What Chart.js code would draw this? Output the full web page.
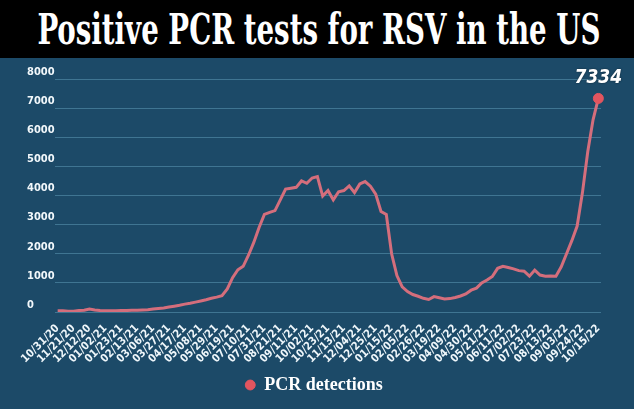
<!DOCTYPE html>
<html>
<head>
<meta charset="utf-8">
<script src="https://cdn.jsdelivr.net/npm/chart.js@4.4.1/dist/chart.umd.min.js"></script>
<style>
  html, body { margin: 0; padding: 0; background: #1c4a68; }
  #wrap { width: 634px; height: 409px; overflow: hidden; }
  .title {
    height: 58px; background: #000; color: #fff;
    display: flex; align-items: center; justify-content: center;
    overflow: hidden; white-space: nowrap;
  }
  .title span {
    font-family: "DejaVu Serif Condensed", "DejaVu Serif", serif;
    font-weight: bold; font-size: 42px; display: inline-block;
    transform-origin: center center; margin-left: 3px;
  }
  canvas { display: block; }
</style>
</head>
<body>
<div id="wrap">
  <div class="title"><span id="ttl">Positive PCR tests for RSV in the US</span></div>
  <canvas id="rsv" width="634" height="351"></canvas>
</div>
<script>
// x tick labels, one every 3 weeks
const tickLabels = [
  "10/31/20", "11/21/20", "12/12/20", "01/02/21", "01/23/21", "02/13/21", "03/06/21",
  "03/27/21", "04/17/21", "05/08/21", "05/29/21", "06/19/21", "07/10/21", "07/31/21",
  "08/21/21", "09/11/21", "10/02/21", "10/23/21", "11/13/21", "12/04/21", "12/25/21",
  "01/15/22", "02/05/22", "02/26/22", "03/19/22", "04/09/22", "04/30/22", "05/21/22",
  "06/11/22", "07/02/22", "07/23/22", "08/13/22", "09/03/22", "09/24/22", "10/15/22"
];

// weekly positive PCR detections
const detections = [
  40, 40, 30, 30, 50, 60, 100, 70, 50, 40,
  40, 40, 50, 50, 60, 60, 70, 80, 100, 120,
  140, 170, 200, 230, 270, 300, 340, 380, 420, 470,
  510, 560, 790, 1180, 1450, 1570, 1950, 2390, 2900, 3350,
  3420, 3480, 3850, 4220, 4250, 4280, 4500, 4420, 4600, 4650,
  3980, 4170, 3850, 4130, 4170, 4330, 4100, 4400, 4480, 4320,
  4050, 3450, 3350, 2000, 1250, 860, 700, 600, 540, 470,
  430, 530, 490, 450, 460, 500, 550, 620, 750, 820,
  1000, 1100, 1220, 1500, 1570, 1530, 1480, 1420, 1400, 1230,
  1440, 1270, 1230, 1240, 1230, 1550, 2000, 2450, 2950, 4100,
  5500, 6600, 7334
];

const yTicks = [0, 1000, 2000, 3000, 4000, 5000, 6000, 7000, 8000];

// weekly categories, labelled every third week
const weeks = detections.map((v, i) => (i % 3 === 0 ? tickLabels[i / 3] : ""));

// squeeze the heading into the bar
const ttl = document.getElementById("ttl");
const tw = ttl.getBoundingClientRect().width;
ttl.style.transform = "scaleX(" + (563 / tw) + ")";

const lastIdx = detections.length - 1;
const condensed = "'DejaVu Sans Condensed', 'DejaVu Sans', sans-serif";

const endLabel = {
  id: "endLabel",
  afterDatasetsDraw(chart) {
    const pt = chart.getDatasetMeta(0).data[lastIdx];
    const ctx = chart.ctx;
    ctx.save();
    ctx.font = "italic bold 19px " + condensed;
    ctx.fillStyle = "#ffffff";
    ctx.textAlign = "center";
    ctx.textBaseline = "middle";
    ctx.shadowColor = "rgba(0,0,0,0.5)";
    ctx.shadowBlur = 2;
    ctx.fillText(String(detections[lastIdx]), pt.x, pt.y - 20);
    ctx.restore();
  }
};

new Chart(document.getElementById("rsv"), {
  type: "line",
  data: {
    labels: weeks,
    datasets: [{
      label: "PCR detections",
      data: detections,
      borderColor: "#d46e7c",
      borderWidth: 3,
      tension: 0,
      pointRadius: ctx => (ctx.dataIndex === lastIdx ? 5 : 0),
      pointBackgroundColor: "#e2555f",
      pointBorderColor: "#e2555f",
      pointBorderWidth: 1
    }]
  },
  options: {
    responsive: false,
    animation: false,
    layout: { padding: { top: 21, left: 27, right: 33, bottom: 5 } },
    scales: {
      x: {
        offset: true,
        grid: { display: false },
        border: { display: false },
        ticks: {
          autoSkip: false,
          minRotation: 45,
          maxRotation: 45,
          padding: 2,
          color: "#eef6fa",
          font: { family: condensed, weight: "bold", size: 11 }
        },
        afterFit(scale) { scale.height = 54; }
      },
      y: {
        min: 0,
        max: 8000,
        afterBuildTicks(scale) { scale.ticks = yTicks.map(v => ({ value: v })); },
        grid: { color: "#3f7592", lineWidth: 1, drawTicks: false },
        border: { display: false },
        ticks: {
          crossAlign: "far",
          labelOffset: -7,
          color: "#f2f8fb",
          font: { family: condensed, weight: "bold", size: 11 },
          callback: v => String(v)
        },
        afterFit(scale) { scale.width = 28; }
      }
    },
    plugins: {
      legend: {
        position: "bottom",
        labels: {
          usePointStyle: true,
          boxWidth: 10,
          boxHeight: 7,
          padding: 10,
          color: "#ffffff",
          font: { family: "'Liberation Serif', 'DejaVu Serif', serif", weight: "bold", size: 18 }
        }
      },
      tooltip: { enabled: false }
    }
  },
  plugins: [endLabel]
});
</script>
</body>
</html>
